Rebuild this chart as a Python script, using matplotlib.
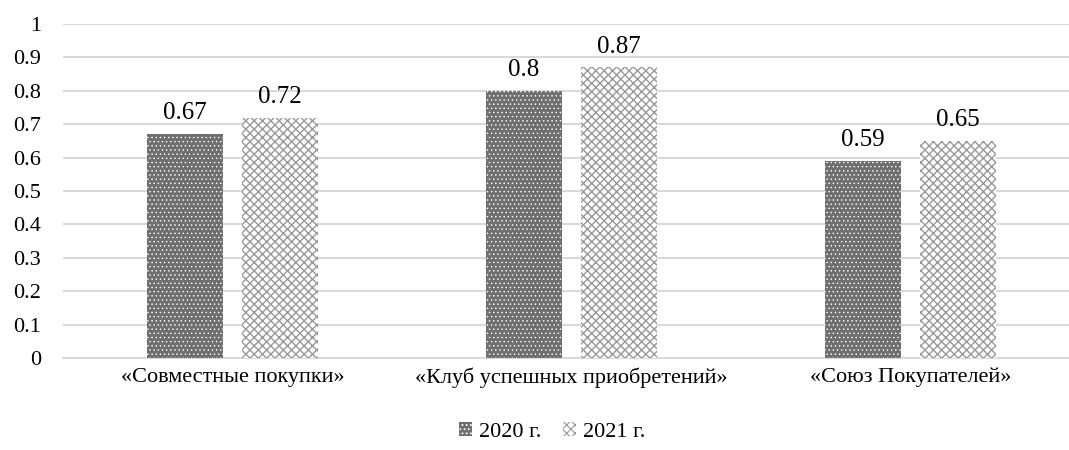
import matplotlib
matplotlib.use("Agg")
import matplotlib.pyplot as plt
import numpy as np

categories = ["«Совместные покупки»", "«Клуб успешных приобретений»", "«Союз Покупателей»"]
series_names = ["2020 г.", "2021 г."]
values_2020 = [0.67, 0.80, 0.59]
values_2021 = [0.72, 0.87, 0.65]
y_ticks = [0, 0.1, 0.2, 0.3, 0.4, 0.5, 0.6, 0.7, 0.8, 0.9, 1]
y_tick_labels = ["0", "0.1", "0.2", "0.3", "0.4", "0.5", "0.6", "0.7", "0.8", "0.9", "1"]

plt.rcParams['font.family'] = ['Liberation Serif', 'DejaVu Serif']
plt.rcParams['hatch.linewidth'] = 0.8

W, H = 1069, 450
fig = plt.figure(figsize=(W / 100, H / 100), dpi=100)
left_px, right_px, top_px, bot_px = 63, 1080, 24, 358
ax = fig.add_axes([left_px / W, 1 - bot_px / H, (right_px - left_px) / W, (bot_px - top_px) / H])

x = np.arange(len(categories))
bw = 0.224
off = 0.141
FS = 16

b1 = ax.bar(x - off, values_2020, bw, facecolor='#6f6f6f', edgecolor='#ffffff', hatch='....', linewidth=0, zorder=3)
b2 = ax.bar(x + off, values_2021, bw, facecolor='#ffffff', edgecolor='#999999', hatch='xxxx', linewidth=0, zorder=3)
for r in b1:
    try:
        r.set_hatch_linewidth(0.5)
    except Exception:
        pass
for r in b2:
    try:
        r.set_hatch_linewidth(1.0)
    except Exception:
        pass

for bars, vals in ((b1, values_2020), (b2, values_2021)):
    for rect, v in zip(bars, vals):
        ax.annotate(f"{v:g}", (rect.get_x() + rect.get_width() / 2, v), xytext=(0, 7),
                    textcoords='offset points', ha='center', va='bottom', fontsize=18, color='#000000')

ax.set_xlim(-0.5, 2.5)
ax.set_ylim(0, 1)
ax.set_yticks(y_ticks)
ax.set_yticklabels(y_tick_labels, fontsize=FS)
ax.set_xticks(x)
ax.set_xticklabels(categories, fontsize=FS)
ax.tick_params(axis='x', length=0, pad=7)
ax.tick_params(axis='y', length=0, pad=16)
ax.yaxis.grid(True, color='#d9d9d9', linewidth=1.5, zorder=0)
ax.set_axisbelow(True)
for s in ['top', 'right', 'left']:
    ax.spines[s].set_visible(False)
ax.spines['bottom'].set_color('#d9d9d9')
ax.spines['bottom'].set_linewidth(1.5)

leg = fig.legend([b1, b2], series_names, loc='center', bbox_to_anchor=(552 / W, 1 - 432 / H),
                 ncol=2, frameon=False, fontsize=FS, handlelength=0.6, handleheight=0.6,
                 handletextpad=0.3, columnspacing=1.0)

fig.savefig("out.png", dpi=100)
